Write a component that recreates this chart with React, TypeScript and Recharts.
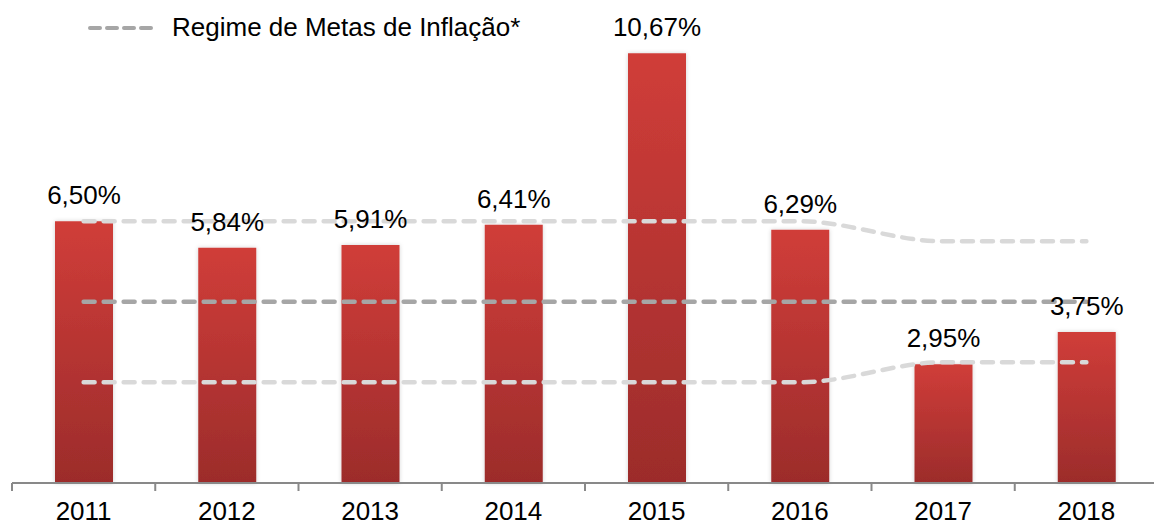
import { Bar, Line, XAxis, YAxis, LabelList, ComposedChart } from 'recharts';

const years = ['2011', '2012', '2013', '2014', '2015', '2016', '2017', '2018'];
const ipca = [6.5, 5.84, 5.91, 6.41, 10.67, 6.29, 2.95, 3.75];
const metaCentro = [4.5, 4.5, 4.5, 4.5, 4.5, 4.5, 4.5, 4.5];
const metaTeto = [6.5, 6.5, 6.5, 6.5, 6.5, 6.5, 6.0, 6.0];
const metaPiso = [2.5, 2.5, 2.5, 2.5, 2.5, 2.5, 3.0, 3.0];

const data = years.map((year, i) => ({
    year,
    ipca: ipca[i],
    centro: metaCentro[i],
    teto: metaTeto[i],
    piso: metaPiso[i],
}));

const FONT = '"Liberation Sans", Arial, sans-serif';
const BAND = 143.25;

const formatPct = (v: any) => `${Number(v).toFixed(2).replace('.', ',')}%`;

const YearTick = (props: any) => {
    const { x, y, payload, index } = props;
    return (
        <g>
            {index === 0 && <line x1={x - BAND / 2} x2={x - BAND / 2} y1={y} y2={y + 8} stroke="#898989" strokeWidth={2} />}
            <line x1={x + BAND / 2} x2={x + BAND / 2} y1={y} y2={y + 8} stroke="#898989" strokeWidth={2} />
            <text x={x} y={y + 37} textAnchor="middle" fontSize={26} fontFamily={FONT} fill="#000">
                {payload.value}
            </text>
        </g>
    );
};

const App = () => {
    return (
        <div style={{ position: 'absolute', left: 0, top: 0, width: 1154, height: 524, overflow: 'hidden', background: '#fff' }}>
            <ComposedChart
                width={1158}
                height={524}
                data={data}
                margin={{ top: 40, right: 0, left: 12, bottom: 11 }}
                barCategoryGap={0}
            >
                <defs>
                    <linearGradient id="barGrad" x1="0" y1="0" x2="0" y2="1">
                        <stop offset="0%" stopColor="#d03d39" />
                        <stop offset="100%" stopColor="#9c2c2b" />
                    </linearGradient>
                    <filter id="barShadow" x="-20%" y="-5%" width="140%" height="110%">
                        <feDropShadow dx="0" dy="0" stdDeviation="2" floodColor="#000" floodOpacity="0.18" />
                    </filter>
                </defs>
                <XAxis
                    dataKey="year"
                    height={30}
                    axisLine={{ stroke: '#898989', strokeWidth: 2 }}
                    tickLine={false}
                    tickSize={0}
                    tickMargin={0}
                    tick={<YearTick />}
                    interval={0}
                />
                <YAxis hide domain={[0, 11]} />
                <Bar dataKey="ipca" barSize={58} fill="url(#barGrad)" style={{ filter: 'url(#barShadow)' }} isAnimationActive={false}>
                    <LabelList
                        dataKey="ipca"
                        position="top"
                        offset={17}
                        formatter={formatPct}
                        style={{ fontSize: 26, fontFamily: FONT, fill: '#000' }}
                    />
                </Bar>
                <Line type="monotone" dataKey="teto" stroke="#d9d9d9" strokeWidth={4.5} strokeDasharray="11 9" strokeLinecap="round" dot={false} activeDot={false} isAnimationActive={false} />
                <Line type="monotone" dataKey="piso" stroke="#d9d9d9" strokeWidth={4.5} strokeDasharray="11 9" strokeLinecap="round" dot={false} activeDot={false} isAnimationActive={false} />
                <Line type="monotone" dataKey="centro" stroke="#a6a6a6" strokeWidth={4.5} strokeDasharray="11 9" strokeLinecap="round" dot={false} activeDot={false} isAnimationActive={false} />
            </ComposedChart>
            <div style={{ position: 'absolute', left: 88, top: 12, display: 'flex', alignItems: 'center', fontFamily: FONT, fontSize: 26, color: '#000' }}>
                <svg width={70} height={10} style={{ marginRight: 14 }}>
                    <line x1={2} x2={68} y1={5} y2={5} stroke="#a6a6a6" strokeWidth={4} strokeDasharray="10 7" strokeLinecap="round" />
                </svg>
                <span>Regime de Metas de Inflação*</span>
            </div>
        </div>
    );
};

export default App;
